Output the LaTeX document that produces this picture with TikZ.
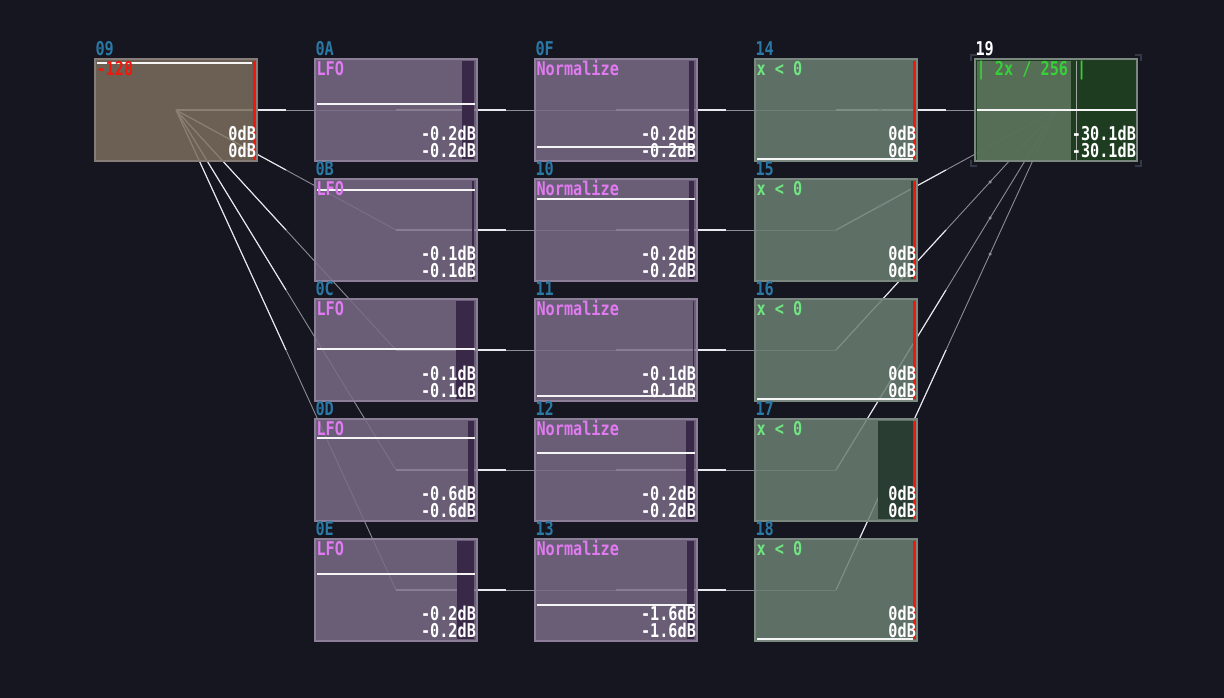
\documentclass[tikz,border=0pt]{standalone}
\usepackage{fontspec}
\usepackage{tikz}
\usetikzlibrary{calc}
\newfontfamily\pixfont{DejaVu Sans Mono}

\definecolor{bgdark}{RGB}{22,22,33}
\definecolor{ampfill}{RGB}{122,110,92}
\definecolor{ampedge}{RGB}{135,125,120}
\definecolor{lfofill}{RGB}{121,107,133}
\definecolor{lfoedge}{RGB}{140,126,152}
\definecolor{lfometer}{RGB}{58,40,72}
\definecolor{cmpfill}{RGB}{107,127,115}
\definecolor{cmpedge}{RGB}{122,136,128}
\definecolor{cmpmeter}{RGB}{42,61,51}
\definecolor{outfill}{RGB}{32,67,32}
\definecolor{outlight}{RGB}{100,122,100}
\definecolor{idblue}{RGB}{44,120,165}
\definecolor{lfopink}{RGB}{224,122,240}
\definecolor{cmpgreen}{RGB}{112,228,130}
\definecolor{outgreen}{RGB}{56,208,56}
\definecolor{clipred}{RGB}{240,24,12}
\definecolor{wiregray}{RGB}{140,140,150}
\definecolor{wirewhite}{RGB}{232,232,238}
\definecolor{cornergray}{RGB}{52,56,70}

\pgfdeclarelayer{bg}
\pgfdeclarelayer{wires}
\pgfsetlayers{bg,wires,main}

\begin{document}
\begin{tikzpicture}[x=1pt,y=-1pt]
	\tikzstyle{module}=[rectangle, line width=1.2pt, minimum width=162pt, minimum height=102pt, inner sep=0pt, fill opacity=0.85]
	\tikzstyle{amp}=[module, draw=ampedge, fill=ampfill]
	\tikzstyle{lfo}=[module, draw=lfoedge, fill=lfofill]
	\tikzstyle{cmp}=[module, draw=cmpedge, fill=cmpfill]
	\tikzstyle{outbox}=[module, draw=cmpedge, fill=outfill]
	\tikzstyle{txt}=[inner sep=0pt, font=\pixfont\bfseries\fontsize{19}{19}\selectfont, xscale=0.8, transform shape]
	\tikzstyle{idtag}=[txt, text=idblue, anchor=base west]
	\tikzstyle{modname}=[txt, anchor=base west]
	\tikzstyle{dbtext}=[txt, text=white, anchor=base east]
	\tikzstyle{wire}=[draw=wiregray, line width=0.9pt]
	\tikzstyle{wire hot}=[draw=wirewhite, line width=1.1pt]
	\tikzstyle{scopeline}=[draw=white!92!gray, line width=1.5pt]
	\tikzstyle{redbar}=[fill=clipred]
	\tikzstyle{flowdot}=[circle, fill=wiregray, inner sep=0pt, minimum size=3.5pt]

	\useasboundingbox (0,0) rectangle (1224,698);
	\begin{pgfonlayer}{bg}
		\fill[bgdark] (0,0) rectangle (1224,698);
	\end{pgfonlayer}

	% amplifier
	\node[amp] (m09) at (176,110) {};
	\draw[scopeline] (97,63) -- (252,63);
	\fill[redbar] (253,61) rectangle (256,160);
	\node[idtag] (m09-id) at ($(m09.north west)+(1,-3)$) {09};
	\node[modname, text=clipred] (m09-nm) at ($(m09.north west)+(2,17)$) {-128};
	\node[dbtext] (m09-l) at ($(m09.south east)+(-1.5,-21)$) {0dB};
	\node[dbtext] (m09-r) at ($(m09.south east)+(-1.5,-4)$) {0dB};

	% lfos
	\foreach \id/\y/\db/\sy/\mx in {0A/110/-0.2/104/462, 0B/230/-0.1/190/472, 0C/350/-0.1/349/456, 0D/470/-0.6/438/468, 0E/590/-0.2/574/457}
	{
		\node[lfo] (m\id) at (396,\y) {};
		\fill[lfometer] (\mx,\y-49) rectangle (474,\y+49);
		\draw[scopeline] (317,\sy) -- (475,\sy);
		\node[idtag] (m\id-id) at ($(m\id.north west)+(1,-3)$) {\id};
		\node[modname, text=lfopink] (m\id-nm) at ($(m\id.north west)+(2,17)$) {LFO};
		\node[dbtext] (m\id-l) at ($(m\id.south east)+(-1.5,-21)$) {\db dB};
		\node[dbtext] (m\id-r) at ($(m\id.south east)+(-1.5,-4)$) {\db dB};
	}

	% normalizers
	\foreach \id/\y/\db/\sy/\mx in {0F/110/-0.2/147/689, 10/230/-0.2/199/689, 11/350/-0.1/396/693, 12/470/-0.2/453/686, 13/590/-1.6/605/687}
	{
		\node[lfo] (m\id) at (616,\y) {};
		\fill[lfometer] (\mx,\y-49) rectangle (694,\y+49);
		\draw[scopeline] (537,\sy) -- (695,\sy);
		\node[idtag] (m\id-id) at ($(m\id.north west)+(1,-3)$) {\id};
		\node[modname, text=lfopink] (m\id-nm) at ($(m\id.north west)+(2,17)$) {Normalize};
		\node[dbtext] (m\id-l) at ($(m\id.south east)+(-1.5,-21)$) {\db dB};
		\node[dbtext] (m\id-r) at ($(m\id.south east)+(-1.5,-4)$) {\db dB};
	}

	% comparators
	\foreach \id/\y/\mx in {14/110/913, 15/230/911, 16/350/913, 17/470/878, 18/590/913}
	{
		\node[cmp] (m\id) at (836,\y) {};
		\fill[cmpmeter] (\mx,\y-49) rectangle (913,\y+49);
		\fill[redbar] (913,\y-49) rectangle (916,\y+49);
		\node[idtag] (m\id-id) at ($(m\id.north west)+(1,-3)$) {\id};
		\node[modname, text=cmpgreen] (m\id-nm) at ($(m\id.north west)+(2,17)$) {x < 0};
		\node[dbtext] (m\id-l) at ($(m\id.south east)+(-1.5,-21)$) {0dB};
		\node[dbtext] (m\id-r) at ($(m\id.south east)+(-1.5,-4)$) {0dB};
	}
	\foreach \sy in {159, 399, 639}
		\draw[scopeline] (757,\sy) -- (913,\sy);

	% output
	\node[outbox] (m19) at (1056,110) {};
	\fill[outlight, fill opacity=0.8] (977,61) rectangle (1071,160);
	\draw[gray!70, line width=1pt] (1076,61) -- (1076,160);
	\draw[scopeline] (977,110) -- (1136,110);
	\node[idtag, text=white] (m19-id) at ($(m19.north west)+(1,-3)$) {19};
	\node[modname, text=outgreen] (m19-nm) at ($(m19.north west)+(2,17)$) {| 2x / 256 |};
	\node[dbtext] (m19-l) at ($(m19.south east)+(-1.5,-21)$) {-30.1dB};
	\node[dbtext] (m19-r) at ($(m19.south east)+(-1.5,-4)$) {-30.1dB};
	\foreach \cx/\cy/\dx/\dy in {971/55/1/1, 1141/55/-1/1, 971/166/1/-1, 1141/166/-1/-1}
		\draw[cornergray, line width=2pt] (\cx+6*\dx,\cy) -- (\cx,\cy) -- (\cx,\cy+6*\dy);

	% links
	\begin{pgfonlayer}{wires}
		\foreach \a/\b in {09/0A, 09/0B, 09/0C, 09/0D, 09/0E, 0A/0F, 0B/10, 0C/11, 0D/12, 0E/13, 0F/14, 10/15, 11/16, 12/17, 13/18, 14/19, 15/19, 16/19, 17/19, 18/19}
		{
			\draw[wire] (m\a.center) -- (m\b.center);
			\draw[wire hot] (m\a.center) -- ($(m\a.center)!0.5!(m\b.center)$);
		}
		\foreach \a in {14, 15, 16, 17, 18}
		{
			\node[flowdot] (d\a-1) at ($(m\a.center)!0.2!(m19.center)$) {};
			\node[flowdot] (d\a-2) at ($(m\a.center)!0.7!(m19.center)$) {};
		}
	\end{pgfonlayer}
\end{tikzpicture}
\end{document}
